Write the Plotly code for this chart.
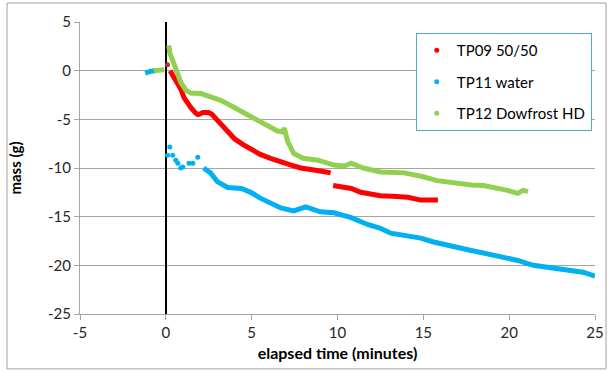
import plotly.graph_objects as go

# ---- data ----
tp09_x1 = [0.25, 0.45, 0.7, 0.9, 1.05, 1.25, 1.46, 1.7, 1.86, 2.0, 2.15, 2.5, 2.7, 2.9, 3.2, 3.6, 4.0, 4.5, 5.0, 5.5, 6.1, 6.7, 7.3, 7.86, 8.45, 9.0, 9.6]
tp09_y1 = [0.0, -0.6, -1.3, -2.0, -2.75, -3.3, -3.8, -4.3, -4.5, -4.45, -4.3, -4.3, -4.5, -4.9, -5.45, -6.1, -7.0, -7.6, -8.15, -8.6, -9.0, -9.4, -9.7, -10.0, -10.1, -10.3, -10.5]
tp09_x2 = [9.75, 10.2, 10.8, 11.35, 11.9, 12.5, 13.2, 14.1, 14.85, 15.4, 15.85]
tp09_y2 = [-11.8, -11.95, -12.1, -12.5, -12.7, -12.85, -12.9, -13.0, -13.3, -13.3, -13.3]
tp09_dot_x = [0.1]
tp09_dot_y = [0.6]

tp11_pre_x = [-1.2, -1.0, -0.87, -0.6]
tp11_pre_y = [-0.25, -0.1, -0.05, 0.0]
tp11_sc_x = [0.1, 0.23, 0.4, 0.58, 0.7, 0.87, 0.99, 1.35, 1.57, 1.86]
tp11_sc_y = [-8.7, -7.85, -8.7, -9.2, -9.5, -10.0, -9.9, -9.5, -9.5, -8.9]
tp11_x = [2.2, 2.6, 3.0, 3.6, 4.4, 4.95, 5.5, 5.94, 6.7, 7.45, 8.15, 9.0, 9.8, 10.8, 11.75, 12.5, 13.1, 14.85, 15.6, 17.6, 19.5, 20.5, 21.4, 22.4, 23.4, 24.3, 25.0]
tp11_y = [-10.0, -10.5, -11.4, -12.0, -12.1, -12.5, -13.1, -13.5, -14.1, -14.4, -14.0, -14.5, -14.6, -15.1, -15.8, -16.2, -16.7, -17.2, -17.6, -18.4, -19.1, -19.5, -20.0, -20.2, -20.5, -20.7, -21.1]

tp12_pre_x = [-0.7, -0.4, -0.1]
tp12_pre_y = [0.0, 0.05, 0.1]
tp12_x = [0.17, 0.23, 0.4, 0.58, 0.87, 1.16, 1.46, 2.04, 2.6, 3.2, 3.8, 4.55, 5.4, 5.94, 6.5, 6.8, 6.9, 7.1, 7.45, 8.0, 8.85, 9.8, 10.4, 10.8, 11.5, 12.5, 13.9, 15.0, 15.8, 17.8, 18.5, 19.9, 20.5, 20.8, 21.1]
tp12_y = [2.6, 1.8, 1.05, 0.03, -1.2, -2.0, -2.3, -2.35, -2.7, -3.05, -3.6, -4.3, -5.1, -5.7, -6.2, -6.3, -5.9, -7.3, -8.5, -9.0, -9.2, -9.7, -9.8, -9.5, -10.0, -10.4, -10.5, -10.9, -11.3, -11.75, -11.8, -12.3, -12.6, -12.3, -12.4]

x_ticks = [-5, 0, 5, 10, 15, 20, 25]
y_ticks = [5, 0, -5, -10, -15, -20, -25]

names = ["TP09 50/50", "TP11 water", "TP12 Dowfrost HD"]
RED, BLUE, GREEN = "#FF0000", "#00B0F0", "#92D050"

fig = go.Figure()
LW = 5

def line(x, y, c):
    fig.add_trace(go.Scatter(x=x, y=y, mode="lines", line=dict(color=c, width=LW), showlegend=False, hoverinfo="skip"))

def dots(x, y, c, s=5):
    fig.add_trace(go.Scatter(x=x, y=y, mode="markers", marker=dict(color=c, size=s), showlegend=False, hoverinfo="skip"))

line(tp11_pre_x, tp11_pre_y, BLUE)
dots(tp11_sc_x, tp11_sc_y, BLUE)
line(tp11_x, tp11_y, BLUE)
line(tp09_x1, tp09_y1, RED)
line(tp09_x2, tp09_y2, RED)
dots(tp09_dot_x, tp09_dot_y, "#C0302A")
line(tp12_pre_x, tp12_pre_y, GREEN)
line(tp12_x, tp12_y, GREEN)

for n, c in zip(names, [RED, BLUE, GREEN]):
    fig.add_trace(go.Scatter(x=[None], y=[None], mode="markers", marker=dict(color=c, size=5),
                             name=n, legendgroup=n, showlegend=True))

FONT = "Lato, Open Sans, sans-serif"
fig.update_layout(
    width=609, height=371,
    margin=dict(l=80, r=14, t=22, b=57, autoexpand=False),
    paper_bgcolor="white", plot_bgcolor="white",
    font=dict(family=FONT, size=15, color="black"),
    xaxis=dict(range=[-5, 25], tickvals=x_ticks, ticktext=[str(v) for v in x_ticks], showgrid=False,
               automargin=False,
               zeroline=True, zerolinecolor="black", zerolinewidth=2,
               showline=True, linecolor="#A6A6A6", linewidth=1,
               ticks="outside", ticklen=5, tickcolor="#A6A6A6",
               tickfont=dict(size=15, color="#262626"),
               title=dict(text="<b>elapsed time (minutes)</b>", font=dict(size=16), standoff=7)),
    yaxis=dict(range=[-25, 5], tickvals=y_ticks, ticktext=[str(v) for v in y_ticks], showgrid=True,
               automargin=False,
               gridcolor="#A6A6A6", gridwidth=1, zeroline=False,
               showline=True, linecolor="#A6A6A6", linewidth=1,
               ticks="outside", ticklen=5, tickcolor="#A6A6A6",
               tickfont=dict(size=15, color="#262626"),
               title=dict(text="<b>mass (g)</b>", font=dict(size=15), standoff=22)),
    legend=dict(x=0.652, y=0.962, xanchor="left", yanchor="top",
                bgcolor="white", bordercolor="#4BACC6", borderwidth=1,
                font=dict(size=15, color="black"), traceorder="grouped", tracegroupgap=9,
                itemwidth=30, entrywidth=140),
    shapes=[dict(type="rect", xref="paper", yref="paper", x0=-0.1417, x1=1.0214, y0=-0.188, y1=1.065,
                 line=dict(color="#A0A0A0", width=1), layer="above")],
)

fig.write_html("out.html", config={"displayModeBar": False},
               post_script="document.body.style.margin='0';document.body.style.padding='0';")
